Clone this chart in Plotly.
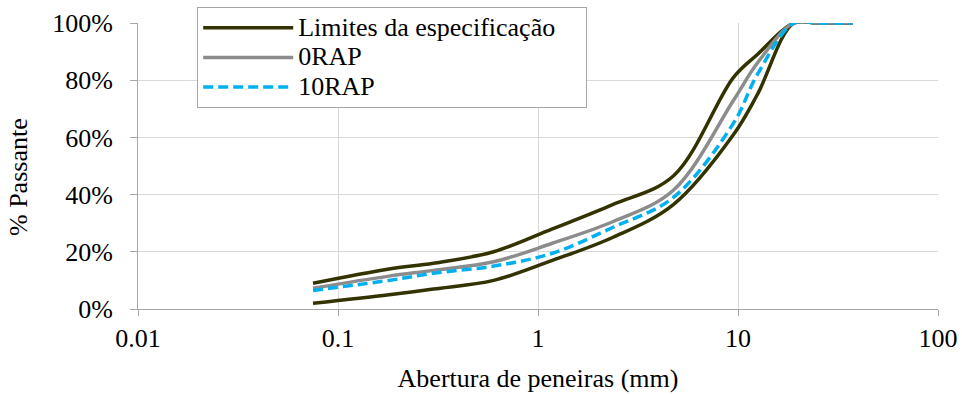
import plotly.graph_objects as go

sieves = [0.075, 0.18, 0.3, 0.6, 1.18, 2.36, 4.75, 9.5, 12.5, 19, 25, 37.5]
spec_upper = [9, 14, 16, 20, 28, 36.5, 46.5, 81, 89, 100, 100, 100]
spec_lower = [2, 5, 7, 10, 17, 25, 36.5, 61, 75, 100, 100, 100]
rap0 = [7.3, 11.5, 13.5, 16.5, 23, 30.5, 41.5, 73, 86, 100, 100, 100]
rap10 = [6.5, 10, 12.5, 15, 19.5, 28.5, 39, 65, 82, 100, 100, 100]

x_ticks = [0.01, 0.1, 1, 10, 100]
x_ticktext = ["0.01", "0.1", "1", "10", "100"]
series_names = ["Limites da especificação", "0RAP", "10RAP"]

FONT = "Liberation Serif"
FS = 26
SPEC_COLOR = "#333300"
GRAY = "#8c8c8c"
BLUE = "#00b0f0"


def legend_label(txt, pad=0):
    return "<span style='font-size:%dpx'>%s%s</span>" % (FS, txt, "\u00a0" * pad)


fig = go.Figure()
fig.add_trace(go.Scatter(x=sieves, y=spec_upper, mode="lines", name=legend_label(series_names[0], 4),
                         line=dict(color=SPEC_COLOR, width=3.5, shape="spline", smoothing=1.0),
                         legendgroup="spec"))
fig.add_trace(go.Scatter(x=sieves, y=spec_lower, mode="lines", name=legend_label(series_names[0]),
                         line=dict(color=SPEC_COLOR, width=3.5, shape="spline", smoothing=1.0),
                         legendgroup="spec", showlegend=False))
fig.add_trace(go.Scatter(x=sieves, y=rap0, mode="lines", name=legend_label(series_names[1]),
                         line=dict(color=GRAY, width=3.5, shape="spline", smoothing=1.0)))
fig.add_trace(go.Scatter(x=sieves, y=rap10, mode="lines", name=legend_label(series_names[2]),
                         line=dict(color=BLUE, width=3.5, dash="10px,5px", shape="spline", smoothing=1.0)))

fig.update_layout(
    width=962, height=394,
    margin=dict(l=138, r=24, t=23, b=85, autoexpand=False),
    paper_bgcolor="white", plot_bgcolor="white",
    font=dict(family=FONT, size=FS, color="black"),
    showlegend=True,
    legend=dict(x=0.074, y=1.056, xanchor="left", yanchor="top",
                bgcolor="white", bordercolor="#a6a6a6", borderwidth=1,
                font=dict(family=FONT, size=20.5, color="black"),
                itemwidth=90, tracegroupgap=0),
    annotations=[dict(text="% Passante", xref="paper", yref="paper", x=-0.15, y=0.4615,
                      xanchor="center", yanchor="middle", textangle=-90, showarrow=False,
                      font=dict(family=FONT, size=FS, color="black"))],
)
fig.update_xaxes(type="log", range=[-2, 2], tickvals=x_ticks, ticktext=x_ticktext,
                 showgrid=True, gridcolor="#d9d9d9", gridwidth=1,
                 showline=True, linecolor="#a6a6a6", linewidth=1,
                 ticks="outside", ticklen=6, tickcolor="#a6a6a6",
                 zeroline=False, tickfont=dict(family=FONT, size=FS),
                 title=dict(text="Abertura de peneiras (mm)", font=dict(family=FONT, size=FS), standoff=16))
fig.update_yaxes(range=[0, 100], dtick=20, ticksuffix="%",
                 showgrid=True, gridcolor="#d9d9d9", gridwidth=1,
                 showline=True, linecolor="#a6a6a6", linewidth=1,
                 ticks="outside", ticklen=7, tickcolor="#a6a6a6",
                 zeroline=False, ticklabelstandoff=12, tickfont=dict(family=FONT, size=FS))

fig.write_html("out.html")
